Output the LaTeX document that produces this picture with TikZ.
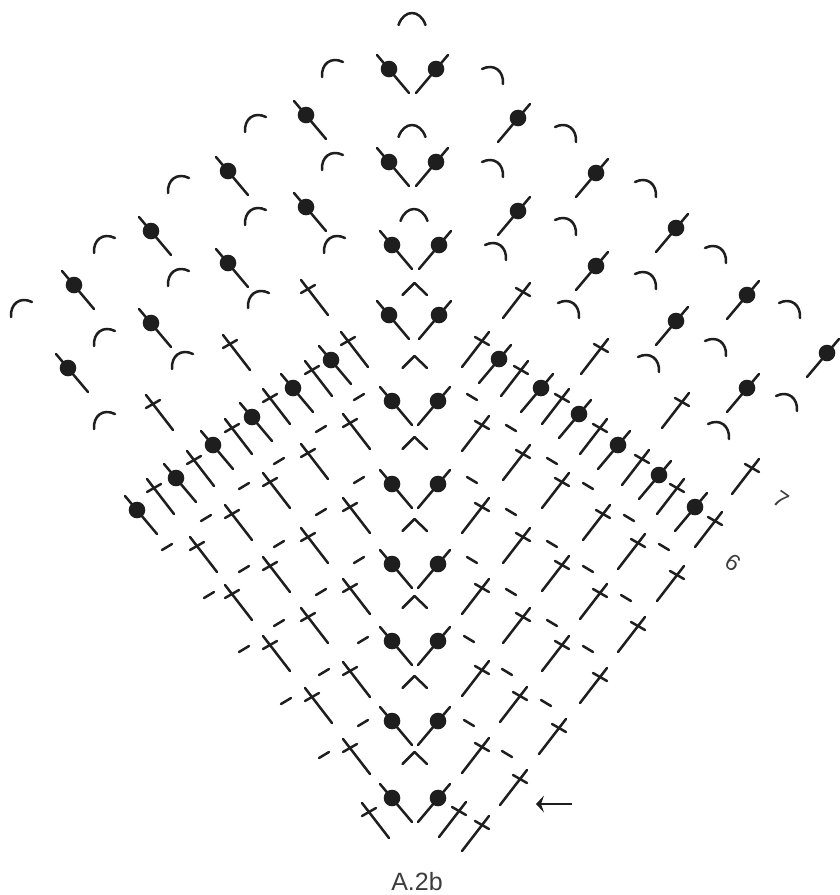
\documentclass[tikz,border=0pt]{standalone}
\usepackage{fontspec}
\setmainfont{Liberation Sans}
\usetikzlibrary{arrows.meta}
\definecolor{ink}{HTML}{1E1E1E}
\definecolor{labelgray}{HTML}{3C3C3C}

\begin{document}
\begin{tikzpicture}[x=1pt, y=-1pt,
  stitch/.style={ink, line width=2.5pt, line cap=round, line join=round},
  lbl/.style={font=\fontsize{#1}{26}\selectfont, text=labelgray, inner sep=0pt},
  pics/dotl/.style={code={
    \draw[stitch] (-12,-14) -- (20,24);
    \fill[ink] (0,0) circle (8.3);}},
  pics/dotr/.style={code={
    \draw[stitch] (12,-14) -- (-20,24);
    \fill[ink] (0,0) circle (8.3);}},
  pics/crossl/.style={code={
    \draw[stitch] (-7,-9) -- (20,26);
    \draw[stitch] (-7,4) -- (7,-4);}},
  pics/crossr/.style={code={
    \draw[stitch] (7,-9) -- (-20,26);
    \draw[stitch] (7,4) -- (-7,-4);}},
  pics/dashl/.style={code={\draw[stitch] (-5,3) -- (5,-3);}},
  pics/dashr/.style={code={\draw[stitch] (-5,-3) -- (5,3);}},
  pics/arcl/.style={code={\draw[stitch] (0,0) .. controls (-1,-13) and (9,-21) .. (21,-15);}},
  pics/arcr/.style={code={\draw[stitch] (0,0) .. controls (1,-13) and (-9,-21) .. (-21,-15);}},
  pics/arctop/.style={code={\draw[stitch] (-13.5,0) .. controls (-8,-16) and (8,-16) .. (13.5,0);}},
  pics/chevron/.style={code={\draw[stitch] (-12,0) -- (0,-12) -- (12.5,0);}}
]
  \useasboundingbox (0,0) rectangle (839,895);
  % centre column
  \foreach \px/\py in {389/69, 389/162, 392/245, 389/315, 392/401, 392/484, 392/564, 392/641, 392/721, 392/798,
    306/115, 228/171, 306/207, 151/231, 228/263, 74/285, 151/323, 68/368,
    331/360, 293/388, 252/417, 213/445, 176/478, 137/510}
    \pic at (\px,\py) {dotl};
  \foreach \px/\py in {436/69, 436/162, 439/245, 439/315, 438/401, 438/484, 438/564, 438/641, 438/721, 438/798,
    518/118, 596/173, 518/211, 676/228, 596/266, 747/295, 676/321, 827/353, 747/388,
    499/359, 541/388, 579/414, 618/445, 659/475, 695/507}
    \pic at (\px,\py) {dotr};
  \foreach \px/\py in {412/25, 412/137, 414/221}
    \pic at (\px,\py) {arctop};
  \foreach \py in {295, 368, 449, 531, 608, 688, 764}
    \pic at (414.5,\py) {chevron};
  % arcs
  \foreach \px/\py in {322/77, 245/132, 322/170, 168/193, 245/225, 324/253, 94/253, 168/286, 248/308,
    11/317, 94/346, 172/369, 94/429}
    \pic at (\px,\py) {arcl};
  \foreach \px/\py in {503/84, 576/142, 503/177, 656/197, 576/235, 506/260, 726/263, 656/289, 579/318,
    800/318, 726/356, 659/372, 797/411, 729/439}
    \pic at (\px,\py) {arcr};
  % crosses
  \foreach \px/\py in {308/289, 230/344, 153/404, 348/341, 312/370, 270/398, 232/428, 194/460, 154/488,
    350/423, 308/453, 270/482, 350/507, 232/514, 308/537, 197/546, 270/566, 350/588, 232/594,
    308/617, 270/645, 350/671, 312/697, 350/748, 369/812}
    \pic at (\px,\py) {crossl};
  \foreach \px/\py in {523/292, 601/348, 682/402, 482/341, 521/370, 562/398, 600/428, 482/425,
    523/454, 642/459, 752/468, 562/482, 677/488, 715/521, 482/507, 603/514, 523/537, 638/543,
    562/565, 677/575, 482/588, 600/593, 523/617, 562/645, 638/626, 482/670, 600/677, 520/696,
    559/728, 482/747, 520/779, 459/811, 482/825}
    \pic at (\px,\py) {crossr};
  % dashes
  \foreach \px/\py in {359/397, 321/429, 279/461, 359/480, 244/486, 321/512, 206/518, 167/547, 279/544,
    359/560, 244/569, 321/592, 209/595, 279/623, 363/640, 244/649, 324/672, 286/701, 363/723, 324/755}
    \pic at (\px,\py) {dashl};
  \foreach \px/\py in {472/397, 511/428, 552/461, 472/480, 588/486, 511/512, 629/518, 664/547, 552/544,
    472/560, 588/569, 511/592, 626/598, 552/623, 469/639, 588/649, 507/672, 546/703, 469/723, 507/754}
    \pic at (\px,\py) {dashr};
  % labels
  \coordinate (arrowstart) at (572,804);
  \coordinate (arrowend) at (536,804);
  \draw[stitch, line cap=butt, -{Stealth[length=8pt, width=17pt, inset=3pt]}] (arrowstart) -- (arrowend);
  \node[lbl=23, rotate=-35] (rowseven) at (781,500) {7};
  \node[lbl=23, rotate=-35] (rowsix) at (733,563) {6};
  \node[lbl=25] (charttitle) at (417,882) {A.2b};
\end{tikzpicture}
\end{document}
